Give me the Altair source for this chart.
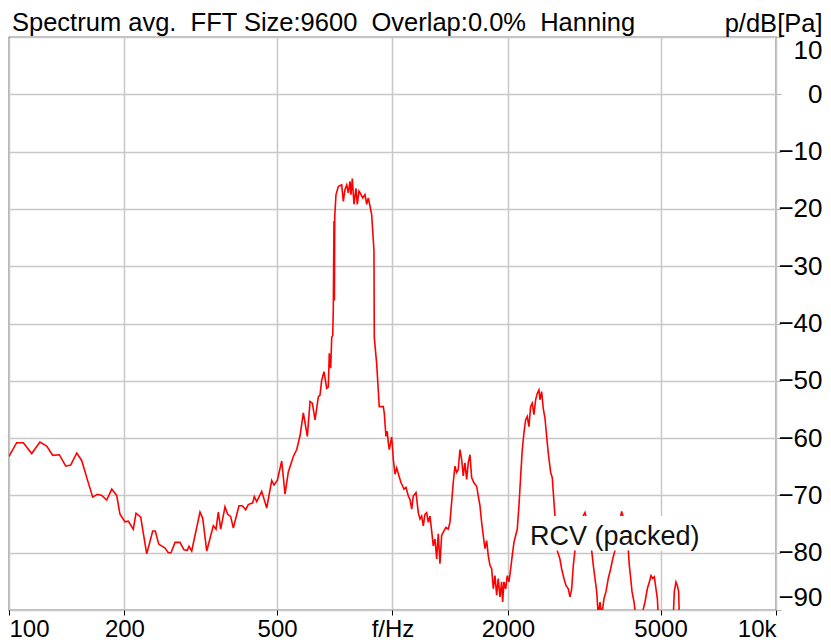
import altair as alt
import pandas as pd

# ---- data ----
freq_hz = [
    100, 104.7, 109.0, 114.6, 120.4, 125.4, 130.0, 135.3, 140.6, 144.8,
    150.2, 154.7, 160.0, 165.3, 169.9, 174.5, 179.8, 185.3, 190.9, 194.7,
    200.6, 204.7, 210.9, 214.4, 220.5, 228.6, 237.0, 240.7, 245.7, 255.2,
    260.3, 264.5, 271.0, 279.2, 286.0, 291.7, 294.7, 299.5, 314.8, 320.0,
    327.8, 341.0, 346.6, 351.4, 356.5, 365.8, 371.8, 378.5, 384.5, 397.8,
    405.8, 414.2, 420.7, 432.0, 436.1, 442.5, 455.9, 469.9, 484.2, 491.0,
    500.8, 514.2, 524.5, 535.0, 551.3, 562.7, 573.9, 585.5, 599.7, 609.5,
    618.0, 628.1, 640.6, 647.1, 653.7, 662.8, 673.6, 680.1, 684.2, 690.0,
    694.2, 698.4, 700.8, 703.8, 705.5, 707.0, 712.3, 722.3, 737.1, 744.3,
    751.9, 759.6, 767.0, 774.8, 779.4, 785.6, 793.6, 803.1, 809.4, 817.7,
    826.2, 836.1, 847.7, 856.4, 864.7, 873.5, 882.5, 894.7, 896.4, 909.3,
    923.6, 937.1, 946.0, 951.7, 961.6, 969.1, 975.0, 980.8, 995.0, 1001,
    1004.8, 1015, 1025.6, 1039.7, 1052.5, 1063.2, 1071.5, 1084.5, 1099.6, 1110.8,
    1122.3, 1133, 1151.5, 1167.5, 1179.4, 1191.4, 1203, 1215.2, 1227.8, 1239.7,
    1252.3, 1265, 1277.3, 1290.3, 1303.7, 1316.1, 1329.8, 1343.3, 1362, 1378.4,
    1397.6, 1411.8, 1426.2, 1440, 1455, 1469.8, 1484.1, 1499.2, 1514.5, 1529.2,
    1544.8, 1560.9, 1576.0, 1592.1, 1608.3, 1630.7, 1657.6, 1673.3, 1690.7, 1707.9,
    1724.5, 1742.1, 1760.2, 1776.9, 1795.4, 1813.7, 1831.3, 1849.9, 1869.2, 1886.9,
    1906.1, 1925.5, 1937.5, 1952.3, 1972.6, 1991.8, 2012.1, 2033.0, 2052.3, 2073.6,
    2094.7, 2115.1, 2136.6, 2158.9, 2179.9, 2201.6, 2224.5, 2246.1, 2268.5, 2292.1,
    2314.4, 2338.0, 2361.8, 2384.7, 2409.0, 2423.5, 2448.7, 2472.0, 2497.7, 2523.2,
    2547.7, 2585.0, 2610.1, 2625.8, 2652.5, 2670, 2688, 2732.3, 2760.8, 2799.8,
    2833.5, 2873.1, 2902.4, 2932.6, 2961.1, 2991.3, 3050, 3120, 3176, 3230,
    3280, 3306, 3339, 3373, 3408, 3440, 3476, 3512, 3560, 3603,
    3653, 3706, 3751, 3803, 3870, 3959, 4040, 4100, 4120, 4145,
    4180, 4213, 4263, 4307, 4375, 4465, 4554, 4618, 4674, 4722,
    4770, 4816, 4865, 4904, 4934, 5188, 5398, 5430, 5485, 5528,
    5574, 5595, 5700, 6000,
]
level_db = [
    -63.2, -60.8, -60.8, -62.7, -60.7, -61.4, -63.0, -62.9, -64.9, -64.7,
    -62.6, -63.9, -67.2, -70.3, -69.8, -70.0, -70.8, -68.9, -70.0, -73.3,
    -74.6, -74.5, -75.9, -73.1, -73.8, -80.2, -76.2, -76.2, -78.5, -79.2,
    -80.0, -80.0, -78.2, -78.2, -79.5, -79.6, -78.9, -79.7, -72.9, -74.0,
    -79.7, -75.3, -75.9, -72.9, -75.9, -72.0, -73.3, -73.7, -75.7, -71.8,
    -71.8, -72.5, -71.6, -71.3, -70.2, -71.1, -69.3, -72.2, -67.4, -68.2,
    -67.4, -64.0, -69.8, -65.9, -63.2, -62.0, -59.6, -55.6, -59.7, -53.6,
    -53.9, -56.8, -52.8, -52.5, -49.9, -48.4, -51.3, -51.1, -45.2, -47.8,
    -42.4, -42.1, -37.7, -22.1, -36.0, -21.3, -17.5, -16.1, -15.8, -18.7,
    -16.6, -15.8, -17.2, -15.2, -17.5, -14.7, -19.2, -16.4, -19.2, -16.9,
    -17.4, -18.1, -17.5, -19.2, -18.1, -19.5, -21.0, -27.3, -42.4, -47.0,
    -54.5, -54.5, -54.5, -55.6, -59.7, -58.8, -60.8, -62.0, -59.8, -62.0,
    -63.7, -66.3, -65.2, -66.6, -67.8, -68.4, -68.9, -68.6, -70.1, -70.7,
    -72.4, -70.1, -69.5, -73.0, -74.1, -73.6, -75.3, -73.3, -73.0, -74.7,
    -73.6, -76.2, -78.8, -77.6, -81.1, -76.7, -81.9, -77.0, -76.2, -75.6,
    -75.9, -74.7, -71.2, -67.8, -64.9, -66.0, -65.5, -62.0, -63.7, -66.6,
    -64.3, -67.2, -64.3, -62.9, -66.9, -67.8, -68.4, -70.1, -71.8, -74.7,
    -77.0, -79.3, -77.9, -80.5, -82.2, -82.8, -86.3, -84.0, -87.4, -84.5,
    -87.7, -85.1, -88.6, -85.1, -86.3, -84.0, -85.1, -82.8, -80.5, -78.2,
    -77.0, -75.9, -71.8, -66.6, -62.0, -59.1, -56.8, -56.2, -58.0, -54.5,
    -53.9, -55.9, -53.3, -52.2, -51.6, -53.3, -51.9, -54.8, -56.5, -59.7,
    -62.6, -66.0, -66.9, -69.5, -73.6, -77.0, -79.6, -81.1, -82.8, -84.5,
    -85.7, -86.3, -87.7, -86.3, -82.2, -79.6, -76.0, -74.0, -73.0, -75.0,
    -78.0, -79.6, -82.2, -84.5, -86.8, -91.0, -88.6, -91.0, -88.0, -86.8,
    -84.5, -82.8, -81.1, -79.6, -76.0, -72.8, -75.0, -78.0, -79.6, -82.2,
    -84.5, -86.8, -88.6, -91.0, -93.0, -91.0, -88.6, -86.3, -85.1, -84.0,
    -84.5, -84.2, -86.3, -88.0, -91.0, -93.0, -91.0, -86.8, -85.1, -85.7,
    -86.8, -91.0, -93.0, -94.0,
]

x_ticks = [100, 200, 500, 1000, 2000, 5000, 10000]
y_ticks = [-90, -80, -70, -60, -50, -40, -30, -20, -10, 0, 10]

title_text = ["Spectrum avg.\u00a0\u00a0FFT Size:9600\u00a0\u00a0Overlap:0.0%\u00a0\u00a0Hanning"]
unit_text = "p/dB[Pa]"
note_text = ["RCV (packed)"]
note_f = [2283]
note_db = [-78.6]
box_f = [2215]
box_f2 = [6530]
box_db = [-73.6]
box_db2 = [-79.6]

FONT = "Liberation Sans, Arial, sans-serif"

df = pd.DataFrame({"f": freq_hz, "dB": level_db})
box_df = pd.DataFrame({"f": box_f, "f2": box_f2, "dB": box_db, "dB2": box_db2})
note_df = pd.DataFrame({"f": note_f, "dB": note_db, "t": note_text})
title_df = pd.DataFrame({"t": title_text})

xscale = alt.Scale(type="log", domain=[100, 10000], nice=False)
yscale = alt.Scale(domain=[-90, 10], nice=False, zero=False)

x_axis = alt.Axis(
    values=x_ticks,
    labelExpr="datum.value == 1000 ? 'f/Hz' : (datum.value == 10000 ? '10k' : format(datum.value, 'd'))",
    labelFlush=True,
    labelFont=FONT,
    labelFontSize=24,
    labelColor="black",
    labelPadding=2,
    tickSize=5,
    tickColor="black",
    domain=False,
    grid=True,
    gridColor="#c8c8c8",
    gridWidth=1.5,
    title=None,
)
y_axis = alt.Axis(
    orient="right",
    values=y_ticks,
    labelFlush=True,
    labelFont=FONT,
    labelFontSize=26,
    labelColor="black",
    labelAlign="right",
    labelPadding=41,
    tickSize=5,
    tickColor="#b0b0b0",
    domain=False,
    grid=True,
    gridColor="#c8c8c8",
    gridWidth=1.5,
    title=unit_text,
    titleFont=FONT,
    titleFontSize=25.5,
    titleFontWeight="normal",
    titleColor="black",
    titleAngle=0,
    titleAlign="right",
    titleBaseline="alphabetic",
    titleX=46,
    titleY=-6,
)

line = alt.Chart(df).mark_line(color="#ff0000", strokeWidth=1.6, clip=True).encode(
    x=alt.X("f:Q", scale=xscale, axis=x_axis),
    y=alt.Y("dB:Q", scale=yscale, axis=y_axis),
    order="f:Q",
)

box = alt.Chart(box_df).mark_rect(fill="white").encode(
    x=alt.X("f:Q", scale=xscale),
    x2="f2:Q",
    y=alt.Y("dB:Q", scale=yscale),
    y2="dB2:Q",
)

note = alt.Chart(note_df).mark_text(
    align="left", baseline="alphabetic", font=FONT, fontSize=27, color="#111111"
).encode(
    x=alt.X("f:Q", scale=xscale),
    y=alt.Y("dB:Q", scale=yscale),
    text="t:N",
)

heading = alt.Chart(title_df).mark_text(
    align="left", baseline="alphabetic", font=FONT, fontSize=25.5, color="black"
).encode(
    x=alt.value(3),
    y=alt.value(-6),
    text="t:N",
)

chart = (
    alt.layer(line, box, note, heading)
    .properties(
        width=767,
        height=573,
        autosize=alt.AutoSizeParams(type="none"),
        padding={"left": 1, "top": 29, "right": 46, "bottom": 32},
        background="white",
    )
    .configure_view(stroke="black", strokeWidth=1.2)
)

chart.save("out.html", embed_options={"renderer": "svg", "actions": False})
